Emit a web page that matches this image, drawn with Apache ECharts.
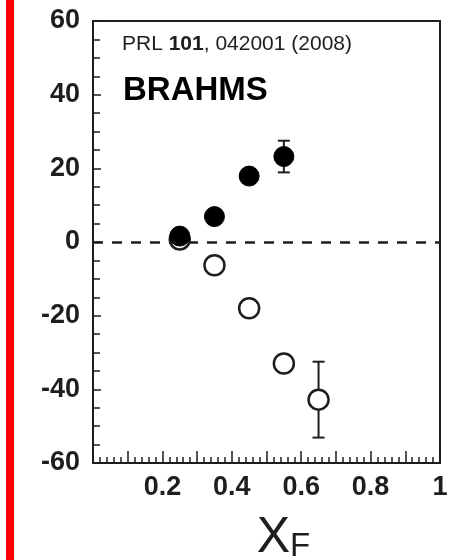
<!DOCTYPE html>
<html><head><meta charset="utf-8">
<script src="https://cdn.jsdelivr.net/npm/echarts@6/dist/echarts.min.js"></script>
<style>html,body{margin:0;padding:0;background:#fff}#c{width:462px;height:560px}</style>
</head><body><div id="c"></div>
<script>
// Data (BRAHMS, PRL 101, 042001)
const filledX = [0.25, 0.35, 0.45, 0.55];
const filledY = [1.6, 6.9, 17.9, 23.2];
const filledErr = [0.6, 0.8, 1.2, 4.3];
const openX = [0.25, 0.35, 0.45, 0.55, 0.65];
const openY = [0.7, -6.3, -18.0, -33.0, -42.8];
const openErr = [0.6, 0.8, 1.5, 2.0, 10.3];
const yTicks = [-60, -40, -20, 0, 20, 40, 60];
const xLabels = {2: '0.2', 4: '0.4', 6: '0.6', 8: '0.8', 10: '1'};

const INK = '#1e1e1e';
const FONT = "'Liberation Sans', Arial, sans-serif";

const chart = echarts.init(document.getElementById('c'), null, {renderer: 'canvas'});

function errBars(xs, ys, es) {
  return xs.map((x, i) => [x, ys[i], es[i]]);
}
function renderErr(params, api) {
  const x = api.value(0), y = api.value(1), e = api.value(2);
  const top = api.coord([x, y + e]);
  const bot = api.coord([x, y - e]);
  const hw = 6;
  const st = {stroke: INK, lineWidth: 2};
  return {type: 'group', children: [
    {type: 'line', shape: {x1: top[0], y1: top[1], x2: bot[0], y2: bot[1]}, style: st},
    {type: 'line', shape: {x1: top[0] - hw, y1: top[1], x2: top[0] + hw, y2: top[1]}, style: st},
    {type: 'line', shape: {x1: bot[0] - hw, y1: bot[1], x2: bot[0] + hw, y2: bot[1]}, style: st}
  ]};
}

chart.setOption({
  animation: false,
  backgroundColor: '#fff',
  grid: {left: 93, right: 22, top: 21, bottom: 97, show: true, borderColor: INK, borderWidth: 2,
    backgroundColor: 'transparent', containLabel: false, outerBoundsMode: 'none'},
  xAxis: {
    type: 'value', min: 0, max: 1, interval: 0.1,
    name: '{x|X}{f|F}', nameLocation: 'middle', nameGap: 50,
    nameTextStyle: {
      padding: [0, 0, 0, 34],
      rich: {
        x: {fontFamily: FONT, fontSize: 50, color: INK, verticalAlign: 'bottom', lineHeight: 50},
        f: {fontFamily: FONT, fontSize: 33, color: INK, verticalAlign: 'bottom', lineHeight: 50}
      }
    },
    axisLine: {show: true, onZero: false, lineStyle: {color: INK, width: 2}},
    axisTick: {show: true, inside: true, length: 12, lineStyle: {color: INK, width: 1.5}},
    minorTick: {show: true, splitNumber: 5, length: 6, lineStyle: {color: INK, width: 1.5}},
    splitLine: {show: false}, minorSplitLine: {show: false},
    axisLabel: {
      margin: 11, fontFamily: FONT, fontWeight: 'bold', fontSize: 27, color: INK,
      formatter: v => { const r = Math.round(v * 10); return xLabels[r] || ''; }
    }
  },
  yAxis: {
    type: 'value', min: yTicks[0], max: yTicks[yTicks.length - 1], interval: 20,
    axisLine: {show: true, onZero: false, lineStyle: {color: INK, width: 2}},
    axisTick: {show: true, inside: true, length: 8, lineStyle: {color: INK, width: 1.5}},
    minorTick: {show: true, splitNumber: 4, length: 7, lineStyle: {color: INK, width: 1.5}},
    splitLine: {show: false}, minorSplitLine: {show: false},
    axisLabel: {margin: 13, fontFamily: FONT, fontWeight: 'bold', fontSize: 27, color: INK}
  },
  graphic: [
    {type: 'rect', shape: {x: 6, y: 0, width: 8, height: 560}, style: {fill: '#ff0000'}, z: 100},
    {type: 'text', x: 122, y: 44, z: 100, style: {
      text: 'PRL {b|101}, 042001 (2008)', fill: INK, verticalAlign: 'middle',
      font: "21px 'Liberation Sans', Arial, sans-serif",
      rich: {b: {fontWeight: 'bold', fontSize: 21, fontFamily: FONT}}
    }},
    {type: 'text', x: 123, y: 91, z: 100, style: {
      text: 'BRAHMS', fill: '#000', verticalAlign: 'middle',
      font: "bold 33px 'Liberation Sans', Arial, sans-serif"
    }}
  ],
  series: [
    {type: 'line', data: [], markLine: {silent: true, symbol: 'none', label: {show: false},
      lineStyle: {color: INK, width: 2.5, type: [10, 9]}, data: [{yAxis: 0}]}},
    {type: 'custom', renderItem: renderErr, data: errBars(openX, openY, openErr), z: 3},
    {type: 'custom', renderItem: renderErr, data: errBars(filledX, filledY, filledErr), z: 3},
    {type: 'scatter', data: openX.map((x, i) => [x, openY[i]]), symbol: 'circle', symbolSize: 20,
      itemStyle: {color: '#fff', borderColor: INK, borderWidth: 2.5, opacity: 1}, z: 4},
    {type: 'scatter', data: filledX.map((x, i) => [x, filledY[i]]), symbol: 'circle', symbolSize: 20,
      itemStyle: {color: '#000', borderColor: '#000', borderWidth: 1, opacity: 1}, z: 5}
  ]
});
</script></body></html>
